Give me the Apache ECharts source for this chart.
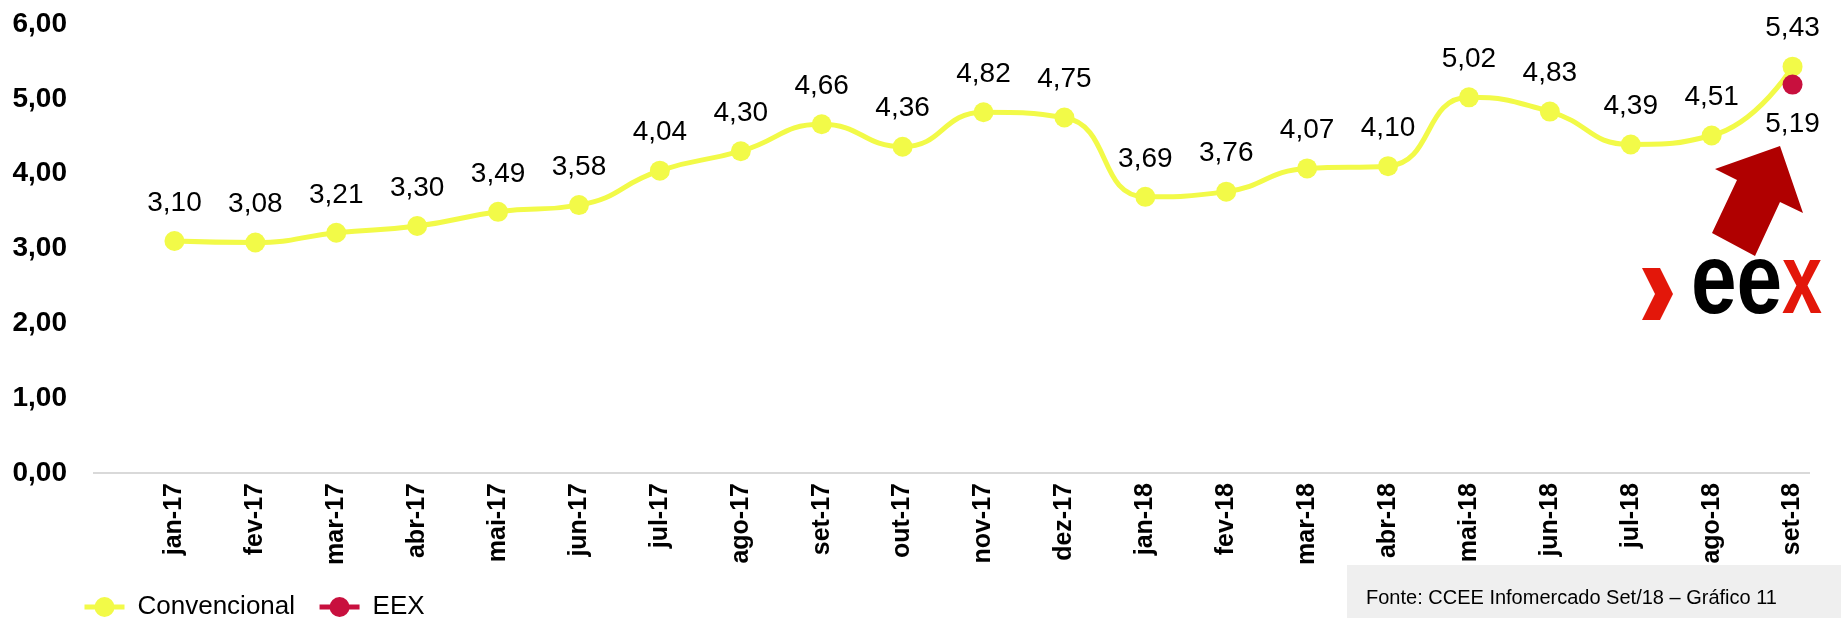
<!DOCTYPE html>
<html>
<head>
<meta charset="utf-8">
<script src="https://cdn.jsdelivr.net/npm/echarts@6/dist/echarts.min.js"></script>
<style>
  html, body { margin: 0; padding: 0; background: #fff; }
  #chart { width: 1841px; height: 618px; }
</style>
</head>
<body>
<div id="chart"></div>
<script>
// meses
const categories = [
  "jan-17", "fev-17", "mar-17", "abr-17", "mai-17", "jun-17", "jul-17",
  "ago-17", "set-17", "out-17", "nov-17", "dez-17", "jan-18", "fev-18",
  "mar-18", "abr-18", "mai-18", "jun-18", "jul-18", "ago-18", "set-18"
];
const convencional = [
  3.10, 3.08, 3.21, 3.30, 3.49, 3.58, 4.04, 4.30, 4.66, 4.36, 4.82,
  4.75, 3.69, 3.76, 4.07, 4.10, 5.02, 4.83, 4.39, 4.51, 5.43
];
// EEX so tem o ultimo mes
const eex = [
  null, null, null, null, null, null, null, null, null, null, null,
  null, null, null, null, null, null, null, null, null, 5.19
];
const yTicks = [0, 1, 2, 3, 4, 5, 6];

const fontFamily = "'Liberation Sans', Arial, sans-serif";
const fmt = (v) => Number(v).toFixed(2).replace(".", ",");

const chart = echarts.init(document.getElementById("chart"));

const option = {
  animation: false,
  textStyle: { fontFamily },
  grid: { left: 134, right: 8, top: 24, bottom: 145 },
  legend: {
    left: 77,
    top: 589,
    itemWidth: 40,
    itemHeight: 25,
    itemGap: 22,
    lineStyle: { width: 5 },
    textStyle: { fontSize: 26, color: "#000", fontFamily, padding: [0, 0, 0, 8] },
    data: ["Convencional", "EEX"],
  },
  xAxis: {
    type: "category",
    data: categories,
    boundaryGap: true,
    axisLine: { show: false },
    axisTick: { show: false },
    axisLabel: {
      rotate: 90,
      interval: 0,
      margin: 10,
      fontSize: 25,
      fontWeight: "bold",
      color: "#000",
    },
  },
  yAxis: {
    type: "value",
    min: yTicks[0],
    max: yTicks[yTicks.length - 1],
    interval: 1,
    splitLine: { show: false },
    axisLine: { show: false },
    axisTick: { show: false },
    axisLabel: {
      margin: 67,
      fontSize: 28,
      fontWeight: "bold",
      color: "#000",
      formatter: (v) => fmt(v),
    },
  },
  series: [
    {
      name: "Convencional",
      type: "line",
      data: convencional,
      smooth: 0.5,
      symbol: "circle",
      symbolSize: 20,
      lineStyle: { color: "#F2FA48", width: 5 },
      itemStyle: { color: "#F2FA48" },
      label: {
        show: true,
        position: "top",
        distance: 14,
        fontSize: 28,
        color: "#000",
        formatter: (p) => fmt(p.value),
      },
    },
    {
      name: "EEX",
      type: "line",
      data: eex,
      symbol: "circle",
      symbolSize: 20,
      lineStyle: { color: "#C8103E", width: 5 },
      itemStyle: { color: "#C8103E" },
      label: {
        show: true,
        position: "bottom",
        distance: 16,
        fontSize: 28,
        color: "#000",
        formatter: (p) => fmt(p.value),
      },
      z: 3,
    },
  ],
  graphic: [
    // linha do eixo x (mais longa que a area dos pontos)
    {
      type: "line",
      shape: { x1: 93, y1: 473, x2: 1810, y2: 473 },
      style: { stroke: "#D9D9D9", lineWidth: 2 },
      z: 1,
    },
    // seta vermelha
    {
      type: "polygon",
      shape: {
        points: [
          [1780, 146], [1803, 213], [1780, 202], [1755, 256],
          [1712, 233], [1737, 180], [1715, 169],
        ],
      },
      style: { fill: "#B00000" },
    },
    // logo eex
    {
      type: "polygon",
      shape: {
        points: [[1642, 268], [1660, 268], [1673, 294], [1660, 320], [1642, 320], [1655, 294]],
      },
      style: { fill: "#E3170A" },
    },
    {
      type: "text",
      x: 1691,
      y: 285,
      scaleX: 0.82,
      style: {
        text: "ee",
        fontSize: 100,
        fontWeight: "bold",
        fontFamily: "'Liberation Sans', Arial, sans-serif",
        fill: "#000",
        verticalAlign: "middle",
      },
    },
    {
      type: "text",
      x: 1782,
      y: 285,
      scaleX: 0.72,
      style: {
        text: "x",
        fontSize: 100,
        fontWeight: "bold",
        fontFamily: "'Liberation Sans', Arial, sans-serif",
        fill: "#E3170A",
        verticalAlign: "middle",
      },
    },
    // caixa da fonte
    {
      type: "rect",
      shape: { x: 1347, y: 565, width: 494, height: 53 },
      style: { fill: "#EFEFEF" },
    },
    {
      type: "text",
      x: 1366,
      y: 598,
      style: {
        text: "Fonte: CCEE Infomercado Set/18 – Gráfico 11",
        fontSize: 20,
        fontFamily: "'Liberation Sans', Arial, sans-serif",
        fill: "#000",
        verticalAlign: "middle",
      },
    },
  ],
};

chart.setOption(option);
</script>
</body>
</html>
